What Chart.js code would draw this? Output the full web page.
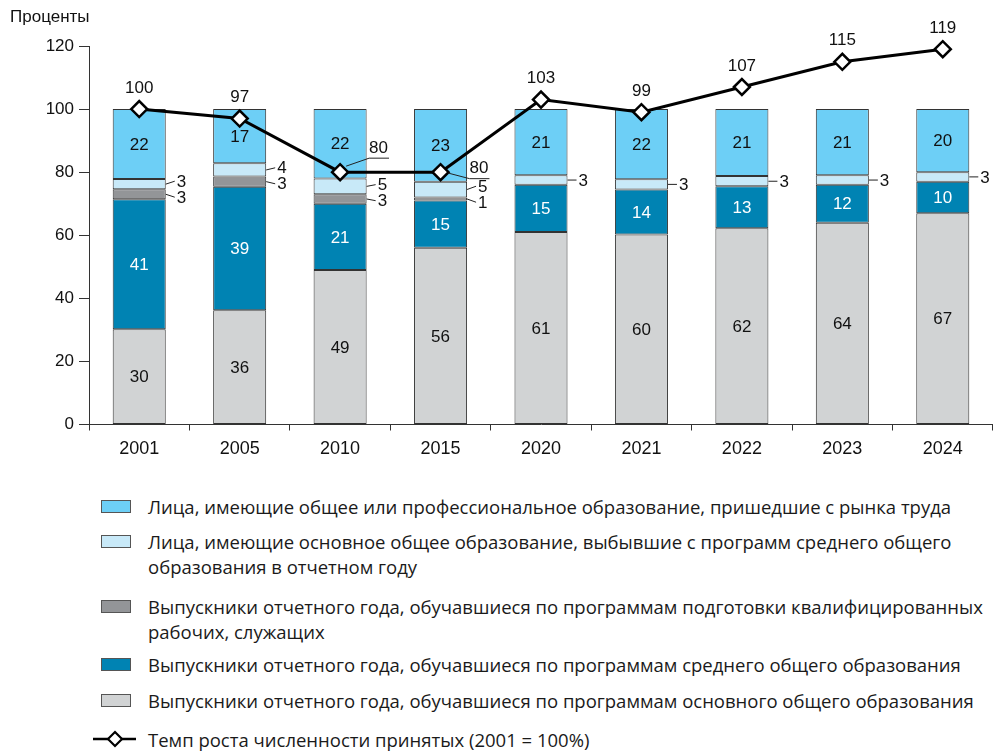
<!DOCTYPE html>
<html lang="ru">
<head>
<meta charset="utf-8">
<script src="https://cdn.jsdelivr.net/npm/chart.js@4.4.1/dist/chart.umd.min.js"></script>
<style>
  html, body { margin: 0; padding: 0; background: #fff; }
  #wrap { position: relative; width: 993px; height: 751px; overflow: hidden; }
  #c { position: absolute; left: 0; top: 0; }
  #ytitle { position: absolute; left: 10px; top: 7px; font: 17px "Liberation Sans", Arial, sans-serif; color: #111; }
  .row { position: absolute; left: 0; width: 993px; }
  .box { position: absolute; left: 101px; width: 28px; height: 11px; border: 1px solid #555; }
  .txt { position: absolute; left: 148px; font: 18.5px "Open Sans", "Noto Sans", sans-serif; line-height: 25px; color: #1a1a1a; white-space: nowrap; }
  svg { position: absolute; }
</style>
</head>
<body>
<div id="wrap">
  <canvas id="c" width="993" height="470"></canvas>
  <div id="ytitle">Проценты</div>
  <div id="legend"></div>
</div>
<script>
// ---- data ----
const categories = ['2001', '2005', '2010', '2015', '2020', '2021', '2022', '2023', '2024'];
const basicGeneral     = [30.2, 36.2, 49, 56, 61, 60.25, 62.25, 64, 67];
const secondaryGeneral = [41.2, 39.2, 21, 15, 15, 14.25, 13.25, 12, 10];
const vocational       = [3.2, 3.2, 3, 1, null, null, null, null, null];
const dropouts         = [3.2, 4.2, 5, 5, 3, 3.25, 3.25, 3, 3];
const labourMarket     = [22.2, 17.2, 22, 23, 21, 22.25, 21.25, 21, 20];
const growthRate       = [100, 97, 80, 80, 103, 99, 107, 115, 119];
const yTickValues      = [0, 20, 40, 60, 80, 100, 120];

const seriesNames = {
  labourMarket: ['Лица, имеющие общее или профессиональное образование, пришедшие с рынка труда'],
  dropouts: ['Лица, имеющие основное общее образование, выбывшие с программ среднего общего', 'образования в отчетном году'],
  vocational: ['Выпускники отчетного года, обучавшиеся по программам подготовки квалифицированных', 'рабочих, служащих'],
  secondaryGeneral: ['Выпускники отчетного года, обучавшиеся по программам среднего общего образования'],
  basicGeneral: ['Выпускники отчетного года, обучавшиеся по программам основного общего образования'],
  growthRate: ['Темп роста численности принятых (2001 = 100%)']
};

// ---- styles ----
const colors = {
  labourMarket: '#6dcff6',
  dropouts: '#c8e9f8',
  vocational: '#939598',
  secondaryGeneral: '#0083b3',
  basicGeneral: '#d1d3d4'
};
const labelColors = { secondaryGeneral: '#ffffff' };
const growthLabelPlacement = ['above', 'above', 'upperRight', 'lowerRight', 'above', 'above', 'above', 'above', 'above'];
const NUM_FONT = '"Liberation Sans", Arial, sans-serif';

function barDs(key, data) {
  return {
    type: 'bar', label: seriesNames[key].join(' '), data: data, key: key,
    backgroundColor: colors[key], borderColor: '#333333', borderWidth: 1,
    borderSkipped: false, stack: 's', order: 2,
    barPercentage: 0.528, categoryPercentage: 1
  };
}

const labelsPlugin = {
  id: 'labels',
  afterDatasetsDraw(chart) {
    const ctx = chart.ctx;
    ctx.save();
    ctx.font = '17px ' + NUM_FONT;
    ctx.textBaseline = 'middle';
    const outside = {};
    chart.data.datasets.forEach((ds, di) => {
      if (ds.type !== 'bar') return;
      const meta = chart.getDatasetMeta(di);
      meta.data.forEach((el, i) => {
        const v = ds.data[i];
        if (v == null) return;
        const p = el.getProps(['x', 'y', 'base', 'width'], true);
        const mid = (p.y + p.base) / 2;
        const txt = String(Math.round(v));
        if (v < 8) {
          (outside[i] = outside[i] || []).push({ mid: mid, ly: mid, txt: txt, right: p.x + p.width / 2 });
        } else {
          ctx.fillStyle = labelColors[ds.key] || '#111111';
          ctx.textAlign = 'center';
          ctx.fillText(txt, p.x, mid + 1);
        }
      });
    });
    const gap = 16;
    Object.keys(outside).forEach(i => {
      const list = outside[i].sort((a, b) => a.mid - b.mid);
      for (let iter = 0; iter < 5; iter++) {
        for (let k = 1; k < list.length; k++) {
          const d = list[k].ly - list[k - 1].ly;
          if (d < gap) {
            const s = (gap - d) / 2;
            list[k].ly += s; list[k - 1].ly -= s;
          }
        }
      }
      list.forEach(o => {
        ctx.strokeStyle = '#222'; ctx.lineWidth = 1;
        ctx.beginPath();
        ctx.moveTo(o.right, o.mid);
        ctx.lineTo(o.right + 9, o.ly);
        ctx.stroke();
        ctx.fillStyle = '#111111';
        ctx.textAlign = 'left';
        ctx.fillText(o.txt, o.right + 11, o.ly + 1);
      });
    });
    // line labels
    chart.data.datasets.forEach((ds, di) => {
      if (ds.type !== 'line') return;
      const meta = chart.getDatasetMeta(di);
      meta.data.forEach((el, i) => {
        const txt = String(ds.data[i]);
        const x = el.x, y = el.y;
        const place = growthLabelPlacement[i];
        ctx.fillStyle = '#111111';
        if (place === 'above') {
          ctx.textAlign = 'center';
          ctx.fillText(txt, x, y - 21);
        } else {
          const w = ctx.measureText(txt).width;
          let tx, ty, uy, sx, sy;
          if (place === 'upperRight') { tx = x + 29; ty = y - 24; uy = y - 14; sx = x + 6; sy = y - 6; }
          else { tx = x + 29; ty = y - 4; uy = y + 6.5; sx = x + 8; sy = y + 1; }
          ctx.textAlign = 'left';
          ctx.fillText(txt, tx, ty);
          ctx.strokeStyle = '#222'; ctx.lineWidth = 1;
          ctx.beginPath();
          ctx.moveTo(sx, sy);
          ctx.lineTo(tx, uy);
          ctx.lineTo(tx + w + 1, uy);
          ctx.stroke();
        }
      });
    });
    ctx.restore();
  }
};

new Chart(document.getElementById('c'), {
  data: {
    labels: categories,
    datasets: [
      {
        type: 'line', label: seriesNames.growthRate[0], data: growthRate, order: 0,
        borderColor: '#000000', borderWidth: 3, pointStyle: 'rectRot', pointRadius: 8,
        pointBackgroundColor: '#ffffff', pointBorderColor: '#000000', pointBorderWidth: 2.5,
        tension: 0, fill: false, clip: false
      },
      barDs('basicGeneral', basicGeneral),
      barDs('secondaryGeneral', secondaryGeneral),
      barDs('vocational', vocational),
      barDs('dropouts', dropouts),
      barDs('labourMarket', labourMarket)
    ]
  },
  options: {
    responsive: false, animation: false, devicePixelRatio: 1,
    layout: { autoPadding: false, padding: { top: 46, left: 0, right: -3, bottom: 0 } },
    plugins: { legend: { display: false }, tooltip: { enabled: false } },
    scales: {
      x: {
        stacked: true, offset: true,
        grid: { display: true, drawOnChartArea: false, offset: true, tickLength: 6, color: '#333', tickWidth: 1 },
        border: { display: true, color: '#333', width: 1 },
        ticks: { color: '#111', font: { family: NUM_FONT, size: 18 }, padding: 8, maxRotation: 0 },
        afterFit(s) { s.height = 45.5; s.paddingLeft = 0; s.paddingRight = 0; }
      },
      y: {
        stacked: true, min: 0, max: 120,
        afterBuildTicks(s) { s.ticks = yTickValues.map(v => ({ value: v })); },
        grid: { display: true, drawOnChartArea: false, tickLength: 10, color: '#333', tickWidth: 1 },
        border: { display: true, color: '#333', width: 1 },
        ticks: { color: '#111', font: { family: NUM_FONT, size: 17 }, padding: 5 },
        afterFit(s) { s.width = 89; }
      }
    }
  },
  plugins: [labelsPlugin]
});

// ---- legend (HTML) ----
const legendRows = [
  { key: 'labourMarket', center: 506 },
  { key: 'dropouts', center: 541 },
  { key: 'vocational', center: 606 },
  { key: 'secondaryGeneral', center: 664 },
  { key: 'basicGeneral', center: 700 },
  { key: 'growthRate', center: 739 }
];
const lg = document.getElementById('legend');
legendRows.forEach(r => {
  const row = document.createElement('div');
  row.className = 'row';
  row.style.top = '0px';
  if (r.key === 'growthRate') {
    row.innerHTML = '<svg width="50" height="20" style="left:92px; top:' + (r.center - 10) + 'px">' +
      '<line x1="1" y1="10" x2="44" y2="10" stroke="#000" stroke-width="2.5"/>' +
      '<polygon points="23,3 30,10 23,17 16,10" fill="#fff" stroke="#000" stroke-width="2.2"/></svg>';
  } else {
    const b = document.createElement('div');
    b.className = 'box';
    b.style.top = (r.center - 6) + 'px';
    b.style.background = colors[r.key];
    row.appendChild(b);
  }
  const t = document.createElement('div');
  t.className = 'txt';
  t.style.top = (r.center - 12.5) + 'px';
  seriesNames[r.key].forEach((line, k) => {
    if (k) t.appendChild(document.createElement('br'));
    t.appendChild(document.createTextNode(line));
  });
  row.appendChild(t);
  lg.appendChild(row);
});
</script>
</body>
</html>
